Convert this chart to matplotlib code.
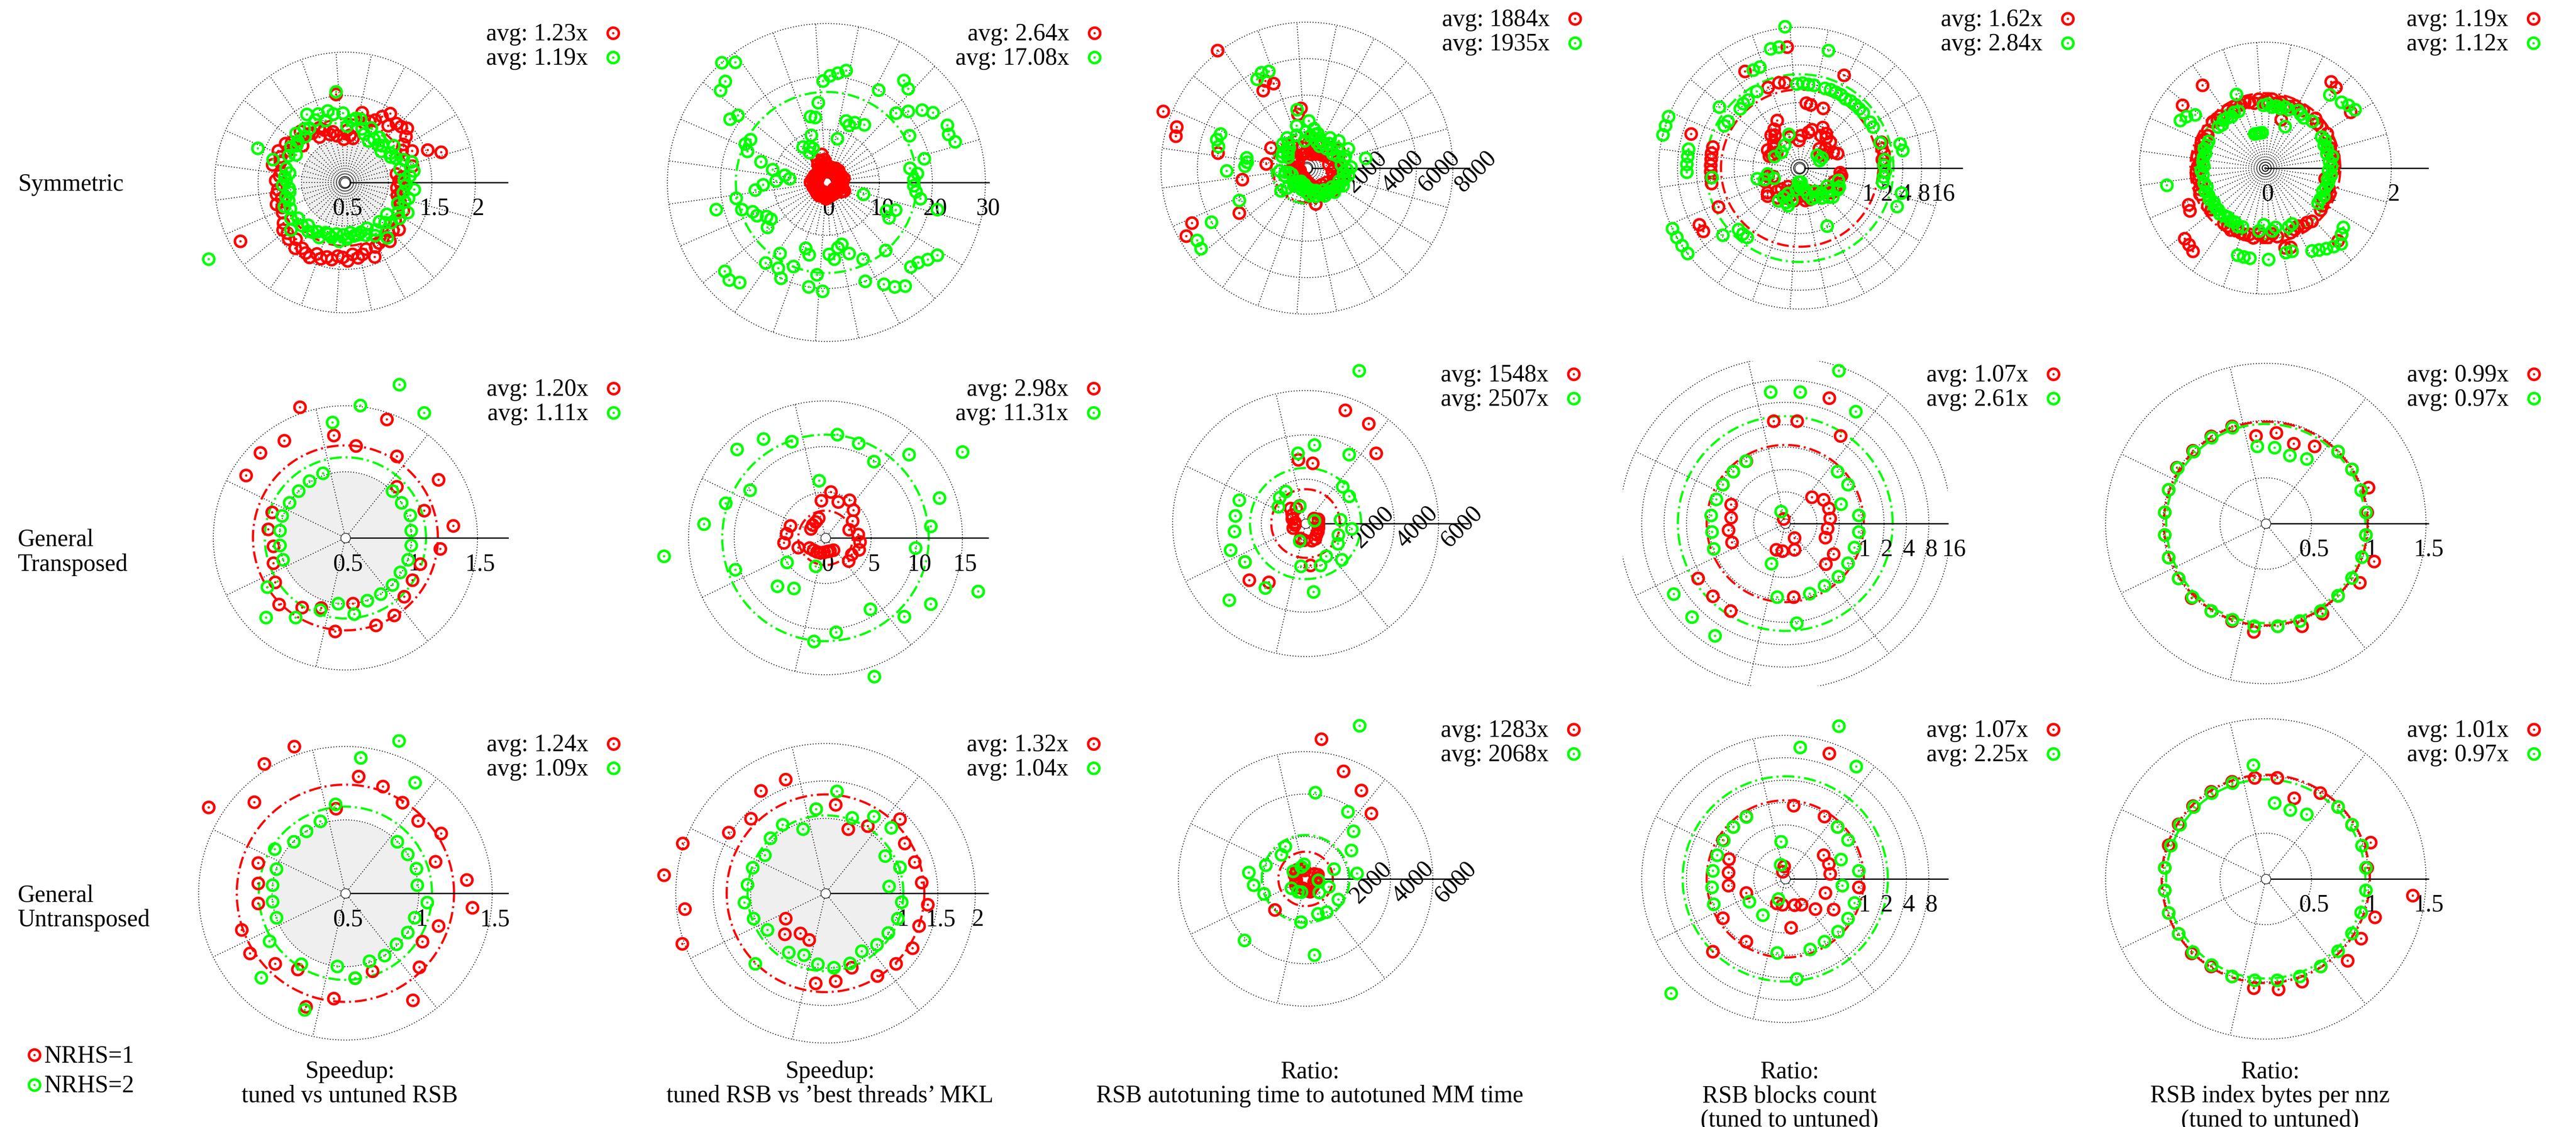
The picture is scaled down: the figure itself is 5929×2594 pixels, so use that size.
import numpy as np
import matplotlib
matplotlib.use("Agg")
import matplotlib.pyplot as plt
from matplotlib.lines import Line2D

# ---------------------------------------------------------------- data
ROW_LABELS = [["Symmetric"], ["General", "Transposed"], ["General", "Untransposed"]]
COL_TITLES = [["Speedup:", "tuned vs untuned RSB"],
              ["Speedup:", "tuned RSB vs \u2019best threads\u2019 MKL"],
              ["Ratio:", "RSB autotuning time to autotuned MM time"],
              ["Ratio:", "RSB blocks count", "(tuned to untuned)"],
              ["Ratio:", "RSB index bytes per nnz", "(tuned to untuned)"]]
SERIES = ["NRHS=1", "NRHS=2"]

AVG_RED = [[1.23, 2.64, 1884, 1.62, 1.19],
           [1.20, 2.98, 1548, 1.07, 0.99],
           [1.24, 1.32, 1283, 1.07, 1.01]]
AVG_GREEN = [[1.19, 17.08, 1935, 2.84, 1.12],
             [1.11, 11.31, 2507, 2.61, 0.97],
             [1.09, 1.04, 2068, 2.25, 0.97]]

# Row 1 (Symmetric): 92 matrices each
R1C1_red = [1.12, 1.16, 1.10, 1.30, 1.66, 1.52, 1.35, 1.25, 1.30, 1.38, 1.45, 1.41,
            1.40, 1.32, 1.45, 1.37, 1.30, 1.26, 1.22, 1.33, 1.02, 1.05, 1.10, 1.00,
            1.52, 1.05, 1.10, 1.08, 1.15, 1.20, 1.10, 1.18, 1.20, 1.28, 1.22, 1.15,
            1.27, 1.32, 1.25, 1.35, 1.30, 1.28, 1.36, 1.25, 1.26, 1.30, 1.22, 1.28,
            1.30, 1.25, 1.33, 1.28, 1.30, 1.88, 1.35, 1.40, 1.38, 1.42, 1.36, 1.45,
            1.40, 1.43, 1.45, 1.38, 1.42, 1.38, 1.40, 1.35, 1.36, 1.40, 1.33, 1.38,
            1.35, 1.30, 1.42, 1.32, 1.30, 1.28, 1.35, 1.25, 1.28, 1.32, 1.22, 1.25,
            1.20, 1.24, 1.18, 1.15, 1.12, 1.15, 1.10, 1.14]
R1C1_green = [1.18, 1.25, 1.30, 1.15, 1.30, 1.22, 1.15, 1.10, 1.12, 1.20, 1.05, 1.10,
              1.08, 1.15, 1.10, 1.05, 1.20, 1.10, 1.15, 1.25, 1.25, 1.22, 1.15, 1.30,
              1.55, 1.30, 1.35, 1.25, 1.35, 1.30, 1.40, 1.25, 1.28, 1.20, 1.30, 1.22,
              1.20, 1.25, 1.15, 1.22, 1.58, 1.37, 1.20, 1.15, 1.20, 1.18, 1.22, 1.15,
              1.15, 1.20, 1.18, 1.25, 1.20, 2.30, 1.25, 1.18, 1.33, 1.20, 1.15, 1.20,
              1.18, 1.15, 1.20, 1.12, 1.12, 1.15, 1.10, 1.18, 1.10, 1.15, 1.08, 1.12,
              1.12, 1.10, 1.15, 1.08, 1.20, 1.15, 1.30, 1.10, 1.15, 1.20, 1.10, 1.25,
              1.20, 1.30, 1.15, 1.22, 1.25, 1.18, 1.30, 1.20]
R1C2_red = [3.0, 2.6, 2.2, 3.4, 2.8, 2.4, 3.1, 2.5, 2.6, 3.0, 2.2, 3.3,
            2.5, 2.9, 3.2, 2.3, 2.7, 2.2, 3.0, 2.4, 2.1, 2.8, 3.4, 3.8,
            4.4, 5.4, 4.1, 3.5, 4.6, 3.8, 3.0, 2.5, 2.1, 2.5, 1.8, 2.2,
            1.9, 2.4, 2.6, 2.0, 1.8, 2.2, 2.8, 2.1, 2.5, 3.0, 2.2, 1.8,
            2.1, 2.4, 2.7, 1.9, 2.2, 1.8, 2.5, 2.6, 2.0, 2.3, 2.7, 2.1,
            2.4, 2.8, 2.2, 2.0, 1.8, 2.2, 2.5, 2.9, 3.0, 2.4, 2.1, 2.5,
            2.2, 2.6, 2.0, 2.3, 2.1, 2.5, 1.9, 2.2, 2.0, 1.8, 2.4, 3.2,
            3.4, 3.7, 2.8, 2.5, 2.7, 2.3, 3.0, 2.6]
R1C2_green = [16.5, 17.2, 16.0, 19.0, 25.5, 24.8, 25.2, 18.0, 24.0, 22.6, 20.5, 18.5,
              23.5, 24.2, 13.0, 20.0, 12.5, 11.6, 12.2, 8.5, 21.5, 20.8, 20.2, 19.2,
              15.2, 12.5, 12.8, 9.4, 7.0, 7.5, 6.5, 8.0, 28.5, 30.0, 27.0, 26.5,
              21.0, 21.8, 16.5, 17.0, 16.0, 13.0, 10.5, 8.0, 7.0, 9.5, 12.0, 13.5,
              17.3, 21.4, 16.8, 15.0, 14.5, 13.0, 12.5, 14.0, 25.5, 26.0, 25.0, 19.0,
              16.0, 18.5, 20.0, 17.0, 13.0, 14.0, 20.0, 17.5, 20.5, 13.5, 14.5, 12.5,
              12.0, 14.0, 20.0, 16.0, 22.0, 23.5, 24.5, 17.0, 22.5, 23.0, 24.0, 25.0,
              13.5, 12.5, 14.0, 7.3, 21.5, 18.0, 17.0, 16.5]
R1C3_red = [1500, 1900, 1200, 1700, 1800, 1400, 1600, 2000, 1300, 1700, 1100, 1500,
            1200, 1000, 1500, 900, 1100, 1400, 800, 1200, 1000, 1600, 1300, 900,
            3300, 3000, 1200, 800, 5000, 5300, 4900, 1500, 8100, 1200, 900, 700,
            600, 1000, 2260, 800, 8470, 7500, 7400, 4950, 2260, 700, 500, 900,
            3600, 600, 400, 800, 7000, 7600, 4450, 700, 500, 900, 600, 1200,
            800, 600, 1000, 500, 900, 700, 600, 1100, 1200, 1000, 800, 1400,
            2000, 1300, 1100, 1500, 1600, 1800, 1400, 1200, 1500, 1900, 1300, 1700,
            2000, 1600, 1800, 1500, 1700, 2100, 1400, 1900]
R1C3_green = [2400, 1900, 3270, 2100, 2200, 1800, 2500, 1600, 2000, 1700, 2300, 1500,
              1800, 2100, 1600, 1400, 1700, 1500, 2000, 1900, 2200, 1800, 2600, 2000,
              1500, 3250, 2400, 1900, 5700, 5800, 5600, 2000, 1700, 1500, 1900, 1400,
              1300, 1600, 1200, 1500, 5100, 5200, 5000, 3350, 3300, 3400, 4400, 1500,
              1200, 1000, 1300, 900, 4100, 6000, 7200, 7300, 1900, 1500, 1000, 1200,
              900, 1100, 800, 1000, 1000, 1200, 900, 1100, 1300, 1100, 1500, 1200,
              1400, 1600, 1300, 1500, 1600, 1800, 1500, 1700, 1800, 2000, 1700, 1900,
              2000, 2200, 1900, 2100, 2100, 2300, 2000, 2200]
R1C4_red = [2.0, 1.9, 2.1, 2.0, 2.1, 0.40, 0.35, 0.25, 0.22, 0.30, 0.40, 0.25,
            0.40, 0.45, 0.38, 0.50, 4.0, 0.96, 0.40, 0.35, 0.96, 1.0, 0.30, 0.25,
            8.0, 2.2, 2.3, 0.30, 2.2, 0.63, 5.4, 0.50, 0.41, 0.45, 0.35, 0.30,
            0.30, 0.25, 0.35, 0.28, 0.30, 5.9, 2.4, 2.4, 2.4, 2.4, 2.4, 2.4,
            2.4, 0.30, 0.25, 0.35, 2.46, 6.2, 6.2, 0.40, 0.43, 0.30, 0.25, 0.35,
            0.20, 0.25, 0.30, 0.22, 0.25, 0.20, 0.30, 0.18, 0.20, 0.25, 0.22, 0.30,
            0.25, 0.30, 0.22, 0.28, 0.30, 0.25, 0.35, 0.28, 0.30, 0.35, 0.40, 0.30,
            0.38, 0.41, 0.35, 0.40, 0.41, 0.43, 0.40, 2.0]
R1C4_green = [2.0, 2.1, 4.2, 4.0, 2.0, 0.20, 0.22, 2.0, 2.0, 0.20, 2.0, 2.0,
              2.0, 2.0, 1.9, 2.0, 2.0, 2.0, 1.95, 7.8, 2.0, 2.0, 2.05, 2.0,
              17.0, 8.3, 8.3, 0.33, 4.9, 4.9, 2.3, 0.25, 2.1, 2.1, 2.0, 0.22,
              3.7, 2.1, 2.2, 0.25, 16.0, 16.0, 16.0, 5.7, 5.7, 5.7, 5.7, 2.3,
              0.30, 0.45, 0.35, 0.25, 16.0, 16.0, 16.0, 16.0, 3.8, 2.2, 2.2, 2.2,
              0.38, 0.30, 0.25, 0.35, 0.38, 0.30, 0.20, 0.15, 0.15, 0.18, 0.15, 0.20,
              0.20, 0.25, 0.30, 0.95, 0.30, 0.25, 0.35, 0.30, 0.40, 0.45, 0.35, 0.30,
              0.45, 0.45, 4.2, 0.40, 4.2, 2.0, 2.0, 2.1]
R1C5_red = [1.05, 1.08, 1.10, 1.06, 1.08, 1.10, 1.05, 1.12, 1.62, 1.10, 1.08, 1.12,
            1.70, 1.72, 1.10, 1.08, 1.10, 1.05, 0.81, 1.08, 1.05, 1.10, 1.08, 1.05,
            1.10, 1.05, 1.08, 1.10, 1.08, 1.10, 1.05, 1.10, 1.65, 1.10, 1.08, 1.12,
            1.65, 1.10, 1.05, 1.08, 1.10, 1.08, 1.05, 1.10, 1.05, 1.08, 1.10, 1.06,
            1.08, 1.05, 1.10, 1.12, 1.35, 1.38, 1.10, 1.08, 1.70, 1.72, 1.75, 1.10,
            1.10, 1.12, 1.08, 1.10, 1.10, 1.08, 1.12, 1.05, 1.08, 1.10, 1.05, 1.10,
            1.30, 1.32, 1.10, 1.08, 1.05, 1.10, 1.08, 1.12, 1.63, 1.60, 1.10, 1.08,
            1.05, 1.08, 1.10, 1.06, 1.02, 0.96, 1.05, 1.08]
R1C5_green = [1.05, 1.02, 1.08, 1.00, 1.03, 1.00, 1.05, 1.02, 1.70, 1.65, 1.60, 1.05,
              1.55, 1.00, 1.02, 1.05, 0.73, 1.00, 1.02, 0.98, 1.00, 0.98, 1.02, 1.00,
              0.57, 0.57, 0.57, 0.57, 1.26, 1.00, 1.02, 0.98, 1.00, 1.02, 0.98, 1.00,
              1.40, 1.50, 1.55, 1.00, 1.00, 1.02, 0.98, 1.00, 1.00, 0.98, 1.02, 1.00,
              1.59, 1.00, 0.98, 1.02, 1.00, 1.02, 0.98, 1.00, 1.00, 1.02, 1.00, 0.98,
              1.00, 0.98, 1.02, 1.00, 1.45, 1.45, 1.45, 1.00, 0.90, 1.45, 1.00, 0.95,
              1.38, 1.38, 1.00, 0.98, 1.50, 1.55, 1.60, 1.65, 1.70, 1.60, 1.55, 1.00,
              1.00, 1.02, 0.98, 1.00, 1.02, 1.00, 1.05, 1.00]

# Rows 2 and 3 (General): 28 matrices each
R2C1_red = [1.32, 1.13, 1.33, 1.05, 1.23, 1.45, 1.20, 1.28, 1.55, 1.37, 1.41, 1.39, 1.09, 1.09,
            1.05, 1.08, 1.13, 1.21, 1.12, 1.06, 1.21, 1.00, 1.20, 1.19, 1.13, 1.10, 1.10, 1.22]
R2C1_green = [1.00, 1.02, 1.00, 1.00, 1.62, 1.73, 1.51, 1.38, 1.02, 1.01, 1.00, 1.00, 1.01, 1.00,
              1.00, 1.00, 1.20, 1.35, 1.21, 1.08, 1.00, 1.08, 1.00, 1.00, 1.00, 0.99, 1.00, 1.00]
R3C1_red = [1.33, 1.15, 1.27, 1.20, 1.23, 1.27, 1.30, 1.08, 1.56, 1.54, 1.38, 1.60, 1.13, 1.10,
            1.10, 1.25, 1.27, 1.18, 1.11, 1.32, 1.22, 1.08, 1.06, 1.36, 1.21, 1.12, 1.17, 1.37]
R3C1_green = [0.99, 1.01, 1.00, 1.00, 1.39, 1.60, 1.43, 1.11, 1.02, 1.00, 1.00, 1.07, 1.00, 1.00,
              1.00, 1.00, 1.11, 1.31, 1.07, 1.34, 1.00, 1.08, 0.99, 1.00, 0.99, 1.00, 1.00, 1.06]
R2C2_red = [3.6, 2.7, 3.5, 4.3, 4.9, 4.2, 5.1, 4.1, 2.3, 2.1, 2.0, 1.9, 4.1, 4.3,
            4.6, 3.2, 2.1, 1.9, 1.8, 1.7, 1.6, 1.5, 1.5, 1.6, 3.6, 3.4, 3.9, 3.8]
R2C2_green = [11.6, 13.2, 17.7, 12.9, 9.9, 11.0, 11.4, 6.3, 11.2, 12.8, 13.7, 9.8, 11.6, 13.4,
              17.8, 10.5, 5.0, 7.5, 6.5, 3.3, 11.4, 10.4, 16.1, 9.2, 12.2, 13.6, 17.7, 9.9]
R3C2_red = [1.29, 1.26, 1.25, 1.40, 1.06, 0.91, 1.19, 1.13, 1.61, 1.62, 1.41, 1.53, 2.02, 2.17,
            1.89, 2.03, 0.63, 0.77, 0.63, 0.66, 1.21, 1.18, 1.05, 1.30, 1.33, 1.37, 1.32, 1.37]
R3C2_green = [0.85, 1.05, 0.94, 1.24, 1.21, 1.07, 1.37, 1.13, 0.91, 1.08, 1.04, 0.96, 1.03, 1.05,
              1.09, 1.02, 0.92, 1.33, 0.93, 0.87, 0.95, 1.00, 0.99, 0.91, 0.97, 0.99, 1.02, 1.02]
R2C3_red = [570, 600, 440, 4490, 5330, 5420, 2740, 2900, 850, 800, 960, 720, 650, 500,
            490, 600, 3230, 3610, 3130, 700, 750, 1900, 820, 800, 700, 650, 600, 580]
R2C3_green = [1570, 420, 2320, 2350, 3670, 7300, 3570, 3200, 840, 1710, 1670, 1450, 3180, 3200,
              3230, 3600, 3230, 4890, 3420, 840, 1940, 3100, 1990, 1740, 2300, 1710, 1550, 2090]
R3C3_red = [550, 600, 480, 4370, 4940, 5380, 6640, 420, 500, 560, 620, 520, 560, 480,
            450, 500, 560, 2050, 480, 450, 500, 560, 640, 520, 480, 450, 420, 500]
R3C3_green = [2430, 1400, 2550, 3180, 3750, 7660, 4100, 700, 600, 1810, 1620, 700, 1990, 2690,
              2470, 2080, 800, 4090, 700, 650, 2050, 3600, 1730, 1850, 900, 1820, 1140, 600]
R2C4_red = [0.38, 0.39, 0.38, 0.30, 2.32, 5.76, 2.30, 2.30, 0.11, 0.92, 0.92, 0.92, 0.56, 0.51,
            0.55, 0.54, 2.29, 2.27, 2.29, 0.22, 0.22, 0.93, 0.22, 0.16, 0.55, 0.55, 0.35, 0.35]
R2C4_green = [0.92, 0.58, 0.92, 0.92, 5.66, 14.1, 5.70, 5.70, 0.14, 0.93, 0.92, 0.92, 0.91, 0.95,
              0.92, 0.99, 5.60, 5.57, 5.70, 0.35, 0.93, 2.08, 0.93, 0.91, 0.95, 0.93, 0.90, 0.92]
R3C4_red = [0.38, 0.39, 0.38, 0.92, 0.92, 5.80, 0.92, 0.14, 0.12, 0.92, 0.92, 0.92, 0.60, 0.55,
            0.55, 0.34, 0.92, 2.27, 0.92, 0.21, 0.21, 0.43, 0.22, 0.24, 0.35, 0.55, 0.35, 0.92]
R3C4_green = [0.92, 0.58, 0.92, 0.92, 5.74, 14.1, 5.70, 0.30, 0.15, 0.91, 0.92, 0.90, 0.88, 0.90,
              0.92, 0.99, 0.35, 14.0, 0.35, 0.18, 0.94, 2.10, 0.95, 0.92, 0.93, 0.93, 0.90, 0.55]
R2C5_red = [0.99, 1.05, 0.99, 0.99, 0.90, 0.84, 0.90, 0.87, 1.00, 1.00, 1.00, 1.02, 1.00, 0.99,
            0.99, 1.00, 1.00, 1.02, 1.00, 1.00, 1.05, 1.00, 1.05, 1.03, 0.99, 1.07, 1.10, 0.98]
R2C5_green = [0.98, 0.98, 0.99, 0.99, 0.77, 0.73, 0.77, 0.78, 0.99, 0.99, 0.99, 1.01, 1.00, 0.99,
              0.99, 1.00, 1.00, 1.01, 1.00, 0.99, 1.00, 1.00, 1.00, 1.00, 0.99, 0.99, 0.99, 0.98]
R3C5_red = [0.99, 1.07, 0.99, 0.99, 0.99, 0.85, 0.99, 0.99, 1.00, 1.00, 1.00, 1.00, 1.00, 0.99,
            0.99, 1.00, 1.00, 1.02, 1.00, 1.00, 1.06, 1.07, 1.05, 1.00, 1.11, 1.08, 1.11, 1.39]
R3C5_green = [0.98, 0.99, 0.99, 0.99, 0.77, 0.74, 0.77, 1.10, 0.99, 0.99, 0.99, 0.99, 0.98, 0.99,
              0.99, 1.00, 1.00, 1.00, 0.99, 1.00, 0.99, 0.99, 1.00, 1.00, 0.99, 0.99, 0.98, 0.98]

RED_DATA = [[R1C1_red, R1C2_red, R1C3_red, R1C4_red, R1C5_red],
            [R2C1_red, R2C2_red, R2C3_red, R2C4_red, R2C5_red],
            [R3C1_red, R3C2_red, R3C3_red, R3C4_red, R3C5_red]]
GREEN_DATA = [[R1C1_green, R1C2_green, R1C3_green, R1C4_green, R1C5_green],
              [R2C1_green, R2C2_green, R2C3_green, R2C4_green, R2C5_green],
              [R3C1_green, R3C2_green, R3C3_green, R3C4_green, R3C5_green]]

# radial axis ticks (value, label)
TICKS = [
    [[(0.5, "0.5"), (1.5, "1.5"), (2, "2")], [(0, "0"), (10, "10"), (20, "20"), (30, "30")],
     [(2000, "2000"), (4000, "4000"), (6000, "6000"), (8000, "8000")],
     [(1, "1"), (2, "2"), (4, "4"), (8, "8"), (16, "16")],
     [(0, "0"), (1, "1"), (2, "2")]],
    [[(0.5, "0.5"), (1, "1"), (1.5, "1.5")], [(0, "0"), (5, "5"), (10, "10"), (15, "15")],
     [(2000, "2000"), (4000, "4000"), (6000, "6000")],
     [(1, "1"), (2, "2"), (4, "4"), (8, "8"), (16, "16")],
     [(0.5, "0.5"), (1, "1"), (1.5, "1.5")]],
    [[(0.5, "0.5"), (1, "1"), (1.5, "1.5")], [(1, "1"), (1.5, "1.5"), (2, "2")],
     [(2000, "2000"), (4000, "4000"), (6000, "6000")],
     [(1, "1"), (2, "2"), (4, "4"), (8, "8")],
     [(0.5, "0.5"), (1, "1"), (1.5, "1.5")]],
]

# ---------------------------------------------------------------- layout / style
W, H, DPI = 5929, 2594, 100
PT = 72.0 / DPI
RED, GREEN = "#ff0000", "#00ff00"
FS = 40
AX_R = 374
MS, MEW, DOT = 18.5, 4.2, 3.8

CX = [[794, 1902, 3008, 4142, 5214],
      [795, 1900, 3005, 4109, 5215],
      [795, 1900, 3005, 4109, 5215]]
CY = [[420, 420, 387, 387, 387],
      [1238, 1238, 1205, 1205, 1205],
      [2056, 2056, 2023, 2023, 2023]]
RMIN = [[0.5, 0, 0, 0.09, 0],
        [0.5, 0, 0, 0.094, 0.1],
        [0.5, 0, 0, 0.094, 0.1]]
RMAX = [[2.37, 30.66, 8905, 35.4, 2.58],
        [1.73, 17.8, 7330, 14.37, 1.52],
        [1.607, 2.17, 7660, 14.37, 1.52]]
POW2 = [0.125, 0.25, 0.5, 1, 2, 4, 8, 16]
GRIDS = [[[1, 1.5, 2], [10, 20, 30], [2000, 4000, 6000, 8000], POW2, [1, 2]],
         [[1, 1.5], [5, 10, 15], [2000, 4000, 6000], POW2, [0.5, 1, 1.5]],
         [[1, 1.5], [1, 1.5, 2], [2000, 4000, 6000], POW2[:-1], [0.5, 1, 1.5]]]

GRID_KW = dict(color="#111111", lw=1.5, ls=(0, (1.0, 2.0)), zorder=1)

plt.rcParams["font.family"] = ["Liberation Serif", "DejaVu Serif"]
fig = plt.figure(figsize=(W / DPI, H / DPI), dpi=DPI)
fig.patch.set_facecolor("white")


def fx(x):
    return x / W


def fy(y):
    return 1 - y / H


def draw_panel(r, c):
    cx, cy = CX[r][c], CY[r][c]
    rmin, rmax = RMIN[r][c], RMAX[r][c]
    log = (c == 3)
    grid = GRIDS[r][c]
    ax = fig.add_axes([(cx - AX_R) / W, 1 - (cy + AX_R) / H, 2 * AX_R / W, 2 * AX_R / H],
                      projection="polar")
    if log:
        ax.set_rscale("log", base=2)
    ax.set_ylim(rmin, rmax)
    ax.set_xticks([])
    ax.set_yticks([])
    ax.grid(False)
    ax.spines["polar"].set_visible(False)
    ax.patch.set_visible(False)

    th = np.linspace(0, 2 * np.pi, 1441)

    def sq(line):
        line.set_clip_path(None)
        line.set_clip_box(ax.bbox)

    if c in (0, 1):
        ax.fill_between(th, np.full_like(th, rmin), 1.0, color="#efefef", lw=0, zorder=0.5)
    for g in grid:
        ln, = ax.plot(th, np.full_like(th, g), **GRID_KW)
        sq(ln)
    n = 23 if r == 0 else 7
    for k in range(1, n):
        a = 2 * np.pi * k / n
        ln, = ax.plot([a, a], [rmin, grid[-1]], **GRID_KW)
        sq(ln)
    if r == 0:
        for k in range(n):
            a = 2 * np.pi * (k + 0.5) / n
            ln, = ax.plot([a, a], [rmin, grid[0]], **GRID_KW)
            sq(ln)

    # average circles
    for avg, col in ((AVG_RED[r][c], RED), (AVG_GREEN[r][c], GREEN)):
        ax.plot(th, np.full_like(th, avg), color=col, lw=3.6, ls=(0, (5.5, 1.8, 0.9, 1.8)),
                clip_on=False, zorder=2)

    # radial axis line
    ax.plot([0, 0], [rmin, rmax], color="black", lw=2.2, clip_on=False, zorder=3)

    # tick labels
    for v, s in TICKS[r][c]:
        if c == 2:
            ax.annotate(s, xy=(0, v), xytext=(53 * PT, -8 * PT), textcoords="offset points",
                        rotation=45, rotation_mode="anchor", ha="center", va="center",
                        fontsize=FS, annotation_clip=False, zorder=3)
        else:
            ax.annotate(s, xy=(0, v), xytext=(6 * PT, -75 * PT), textcoords="offset points",
                        ha="center", va="baseline", fontsize=FS, annotation_clip=False,
                        zorder=3)

    # centre marker
    if r == 0 and c == 4:
        ax.plot([0], [rmin], "o", ms=3, color="#333333", clip_on=False, zorder=4)
    else:
        ax.plot([0], [rmin], "o", ms=22 * PT, mfc="white", mec="black", mew=1.0,
                clip_on=False, zorder=4)

    # data points
    red = np.asarray(RED_DATA[r][c], dtype=float)
    green = np.asarray(GREEN_DATA[r][c], dtype=float)
    nm = len(red)
    theta = np.deg2rad((np.arange(nm) + 0.5) * 360.0 / nm)
    for vals, col, z in ((red, RED, 5), (green, GREEN, 6)):
        ax.plot(theta, vals, ls="none", marker="o", ms=MS, mfc="none", mec=col, mew=MEW,
                clip_on=False, zorder=z)
        ax.plot(theta, vals, ls="none", marker="o", ms=DOT, mfc=col, mec=col, mew=0,
                clip_on=False, zorder=z)

    # legend (text + marker, right-aligned)
    fmt = "{:.0f}x" if c == 2 else "{:.2f}x"
    for i, (avg, col) in enumerate(((AVG_RED[r][c], RED), (AVG_GREEN[r][c], GREEN))):
        yb = cy - 327 + 56 * i
        fig.text(fx(cx + 559), fy(yb), "avg: " + fmt.format(avg), ha="right",
                 va="baseline", fontsize=FS)
        for ms, mfc, mew in ((MS, "none", MEW), (DOT, col, 0)):
            fig.add_artist(Line2D([fx(cx + 617)], [fy(yb - 17)], transform=fig.transFigure,
                                  ls="none", marker="o", ms=ms, mfc=mfc, mec=col, mew=mew))


for r in range(3):
    for c in range(5):
        draw_panel(r, c)

# row labels
for r in range(3):
    for j, line in enumerate(ROW_LABELS[r]):
        fig.text(fx(41), fy(CY[r][0] + 19 + 57 * j), line, ha="left", va="baseline",
                 fontsize=FS)

# column titles
for c in range(5):
    for j, line in enumerate(COL_TITLES[c]):
        fig.text(fx(CX[2][c] + 10), fy(2481 + 56 * j), line, ha="center", va="baseline",
                 fontsize=FS)

# bottom-left series legend
for i, (name, col) in enumerate(zip(SERIES, (RED, GREEN))):
    ym = 2428 + 69 * i
    for ms, mfc, mew in ((MS, "none", MEW), (DOT, col, 0)):
        fig.add_artist(Line2D([fx(79)], [fy(ym)], transform=fig.transFigure, ls="none",
                              marker="o", ms=ms, mfc=mfc, mec=col, mew=mew))
    fig.text(fx(101), fy(ym + 17), name, ha="left", va="baseline", fontsize=FS)

fig.savefig("out.png", dpi=DPI, facecolor="white")
